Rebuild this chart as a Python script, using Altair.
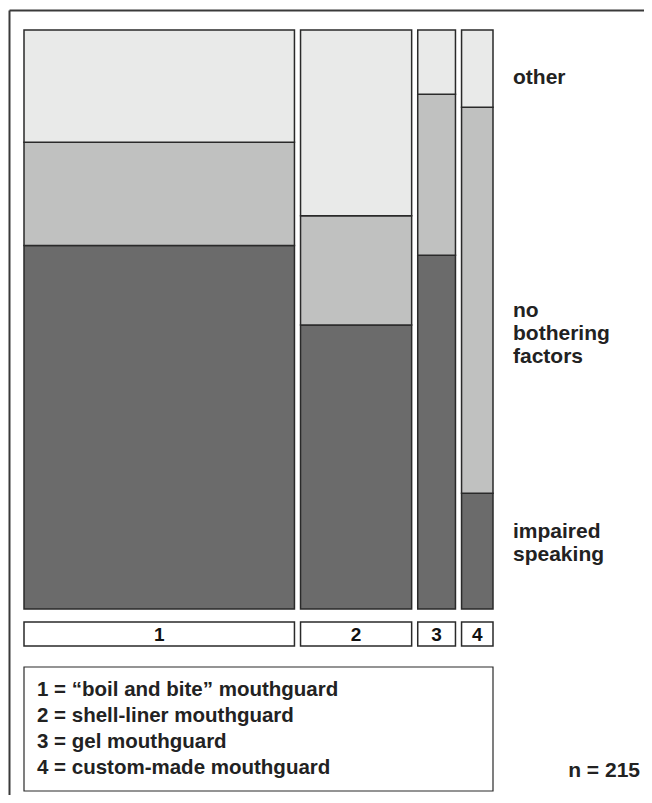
import altair as alt
import pandas as pd

# ---- data ----
mouthguard = ["1", "2", "3", "4"]
legend_names = ["\u201cboil and bite\u201d mouthguard", "shell-liner mouthguard",
                "gel mouthguard", "custom-made mouthguard"]
categories = ["impaired speaking", "no bothering factors", "other"]  # bottom -> top
impaired = [81, 26, 11, 3]
no_bother = [23, 10, 5, 10]
other = [25, 17, 2, 2]

FONT = "Liberation Sans"
GAP = 2.9  # gap between columns, in count units

counts = {"impaired speaking": impaired, "no bothering factors": no_bother, "other": other}
totals = [sum(v) for v in zip(impaired, no_bother, other)]
N = sum(totals)

cols = []
x = 0.0
for i, m in enumerate(mouthguard):
    cols.append({"mg": m, "x0": x, "x1": x + totals[i], "xc": x + totals[i] / 2})
    x += totals[i] + GAP
cols_df = pd.DataFrame(cols)
XMAX = x - GAP

rows = []
for i, c in enumerate(cols):
    y = 0.0
    for cat in categories:
        p = counts[cat][i] / totals[i]
        rows.append({"mg": c["mg"], "cat": cat, "x0": c["x0"], "x1": c["x1"], "y0": y, "y1": y + p})
        y += p
mosaic_df = pd.DataFrame(rows)

xs = alt.Scale(domain=[0, XMAX], range=[16, 485])
ys = alt.Scale(domain=[0, 1], range=[601, 22])

mosaic = alt.Chart(mosaic_df).mark_rect(stroke="#2a2a2a", strokeWidth=1.5).encode(
    x=alt.X("x0:Q", scale=xs, axis=None),
    x2="x1:Q",
    y=alt.Y("y0:Q", scale=ys, axis=None),
    y2="y1:Q",
    fill=alt.Fill("cat:N", scale=alt.Scale(domain=categories,
                                           range=["#6b6b6b", "#c0c1c0", "#e9eae9"]), legend=None),
)

label_box = alt.Chart(cols_df).mark_rect(fill="white", stroke="#2a2a2a", strokeWidth=1.5).encode(
    x=alt.X("x0:Q", scale=xs, axis=None), x2="x1:Q",
    y=alt.value(614), y2=alt.value(638),
)
label_txt = alt.Chart(cols_df).mark_text(font=FONT, fontSize=19, fontWeight="bold",
                                         color="#111", baseline="middle").encode(
    x=alt.X("xc:Q", scale=xs, axis=None), y=alt.value(627), text="mg:N",
)

right_df = pd.DataFrame({"lab": [["other"], ["no", "bothering", "factors"], ["impaired", "speaking"]],
                         "yy": [76, 309, 530]})
right_txt = alt.Chart(right_df).mark_text(font=FONT, fontSize=21, fontWeight="bold", color="#222",
                                          align="left", baseline="alphabetic", lineHeight=23).encode(
    x=alt.value(505), y=alt.Y("yy:Q", scale=None), text="lab:N",
)

legend_box = alt.Chart(cols_df.head(1)).mark_rect(fill="white", stroke="#2a2a2a", strokeWidth=1.2).encode(
    x=alt.value(16), x2=alt.value(485), y=alt.value(659), y2=alt.value(783),
)
legend_lines = [f"{m} = {n}" for m, n in zip(mouthguard, legend_names)]
legend_txt = alt.Chart(cols_df.head(1)).mark_text(font=FONT, fontSize=20.5, fontWeight="bold", color="#222",
                                                  align="left", baseline="alphabetic", lineHeight=26).encode(
    x=alt.value(29), y=alt.value(688), text=alt.value(legend_lines),
)

n_txt = alt.Chart(cols_df.head(1)).mark_text(font=FONT, fontSize=21, fontWeight="bold", color="#222",
                                             align="right", baseline="alphabetic").encode(
    x=alt.value(632), y=alt.value(769), text=alt.value(f"n = {N}"),
)

frame_top = alt.Chart(cols_df.head(1)).mark_rule(color="#3a3a3a", strokeWidth=2).encode(
    x=alt.value(1.5), x2=alt.value(636), y=alt.value(2.5),
)
frame_left = alt.Chart(cols_df.head(1)).mark_rule(color="#3a3a3a", strokeWidth=2).encode(
    x=alt.value(1.5), y=alt.value(2.5), y2=alt.value(787),
)

chart = alt.layer(
    frame_top, frame_left, mosaic, label_box, label_txt, right_txt, legend_box, legend_txt, n_txt
).properties(width=636, height=787, padding=0, autosize="none").configure_view(stroke=None)

chart.save("out.html", embed_options={"renderer": "svg", "actions": False})
